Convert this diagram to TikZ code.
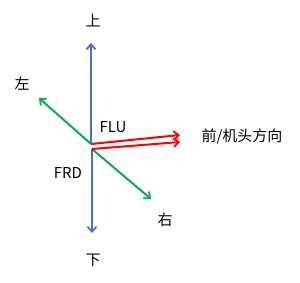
\documentclass[tikz,border=0pt]{standalone}
\usepackage{fontspec}
\setmainfont{Noto Sans CJK SC}
\usetikzlibrary{arrows.meta}
\definecolor{axblue}{HTML}{4472C4}
\definecolor{axgreen}{HTML}{00B050}
\definecolor{axred}{HTML}{FF0000}
\begin{document}
\begin{tikzpicture}[x=1pt,y=-1pt,
  axis/.style={line width=2pt,-{Straight Barb[length=5pt,width=9pt,line width=1.8pt]}},
  lbl/.style={inner sep=0pt,font=\fontsize{15pt}{18pt}\selectfont}]
\useasboundingbox (0,0) rectangle (300,283);
\coordinate (o1) at (91,144);
\coordinate (o2) at (92,149);
\coordinate (up) at (91,43);
\coordinate (dn) at (92,233);
\coordinate (lf) at (39,98);
\coordinate (rt) at (151,199);
\coordinate (f1) at (180,135);
\coordinate (f2) at (180,142);
\draw[axis,axblue] (o1) -- (up);
\draw[axis,axblue] (o2) -- (dn);
\draw[axis,axgreen] (o1) -- (lf);
\draw[axis,axgreen] (o2) -- (rt);
\draw[axis,axred] (o1) -- (f1);
\draw[axis,axred] (o2) -- (f2);
\node[lbl] (tup) at (93,21) {上};
\node[lbl] (tdn) at (93,260) {下};
\node[lbl] (tlf) at (22,84) {左};
\node[lbl] (trt) at (165,220) {右};
\node[lbl] (tflu) at (113,127) {FLU};
\node[lbl] (tfrd) at (68,173) {FRD};
\node[lbl] (tfw) at (242,136) {前/机头方向};
\end{tikzpicture}
\end{document}
